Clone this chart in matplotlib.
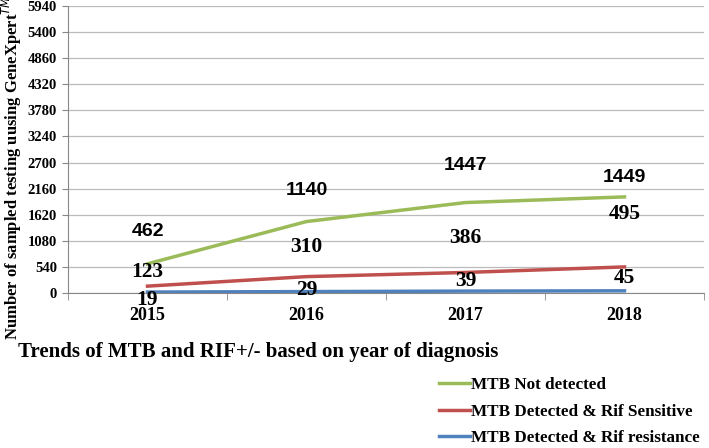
import matplotlib.pyplot as plt
import numpy as np

# Data (stacked line chart, labels show the individual series values)
years = ['2015', '2016', '2017', '2018']
not_detected = [462, 1140, 1447, 1449]
rif_sensitive = [123, 310, 386, 495]
rif_resistance = [19, 29, 39, 45]
y_ticks = np.arange(0, 5941, 540)

# Label offsets in points (dx, dy) from each stacked point
off_green = [(0, 23), (0, 22), (0, 27), (0, 14)]
off_red = [(0, 10), (0, 21), (0, 25), (0, 38)]
off_blue = [(0, -6), (0, 1), (0, 7), (0, 9)]

serif = 'Liberation Serif'
sans = 'Liberation Sans'

x = np.arange(len(years))
blue_top = np.array(rif_resistance)
red_top = blue_top + np.array(rif_sensitive)
green_top = red_top + np.array(not_detected)

fig = plt.figure(figsize=(7.09, 4.48), dpi=100)
ax = fig.add_axes([68/709, 1-293/448, (704-68)/709, (293-6)/448])

ax.plot(x, green_top, color='#9BBB59', lw=2.5, label='MTB Not detected')
ax.plot(x, red_top, color='#C0504D', lw=2.5, label='MTB Detected & Rif Sensitive')
ax.plot(x, blue_top, color='#4F81BD', lw=2.5, label='MTB Detected & Rif resistance')

for i in range(len(x)):
    ax.annotate(str(not_detected[i]), (x[i], green_top[i]), xytext=off_green[i],
                textcoords='offset points', ha='center', va='center',
                fontsize=14, fontweight='bold', family=sans)
    ax.annotate(str(rif_sensitive[i]), (x[i], red_top[i]), xytext=off_red[i],
                textcoords='offset points', ha='center', va='center',
                fontsize=15.5, fontweight='bold', family=serif)
    ax.annotate(str(rif_resistance[i]), (x[i], blue_top[i]), xytext=off_blue[i],
                textcoords='offset points', ha='center', va='center',
                fontsize=15.5, fontweight='bold', family=serif)

ax.set_xlim(-0.5, len(x) - 0.5)
ax.set_ylim(0, 5940)
ax.set_yticks(y_ticks)
ax.set_yticklabels([str(v) for v in y_ticks], fontsize=10.5, fontweight='bold', family=serif)
ax.set_xticks(x)
ax.set_xticklabels(years, fontsize=13, fontweight='bold', family=serif)
ax.set_xticks(np.arange(-0.5, len(x), 1), minor=True)
ax.tick_params(axis='x', which='major', length=0, pad=10)
ax.tick_params(axis='x', which='minor', length=5, color='#888888')
ax.tick_params(axis='y', length=4, color='#888888', pad=4)
ax.grid(axis='y', color='#BBBBBB', lw=0.9)
ax.set_axisbelow(True)
for s in ['top', 'right']:
    ax.spines[s].set_visible(False)
for s in ['left', 'bottom']:
    ax.spines[s].set_color('#888888')

fig.text(12/709, 1-168/448, 'Number of sampled testing uusing GeneXpert$^{TM}$',
         rotation=90, ha='center', va='center', fontsize=12, fontweight='bold', family=serif)
fig.text(18/709, 1-352/448, 'Trends of MTB and RIF+/- based on year of diagnosis',
         ha='left', va='center', fontsize=15, fontweight='bold', family=serif)

fig.legend(loc='upper left', bbox_to_anchor=(424/709, 1-362/448), frameon=False,
           handlelength=1.8, handletextpad=0.05, labelspacing=0.6,
           prop={'family': serif, 'weight': 'bold', 'size': 12.3})

fig.savefig('out.png', dpi=100)
